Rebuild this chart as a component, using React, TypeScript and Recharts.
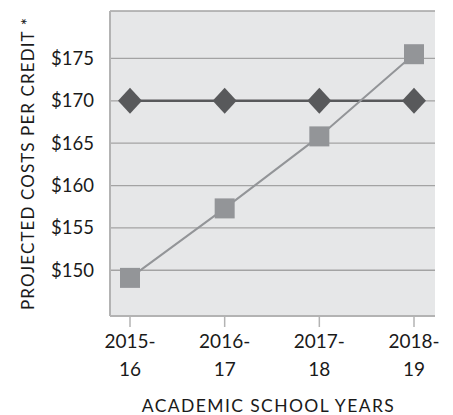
import { CartesianGrid, Label, Line, LineChart, XAxis, YAxis } from "recharts";

const years = ["2015-16", "2016-17", "2017-18", "2018-19"];
const flatCost = [170, 170, 170, 170];
const perCreditCost = [149.1, 157.3, 165.8, 175.5];
const yTicks = [150, 155, 160, 165, 170, 175];

const data = years.map((y, i) => ({ year: y, flat: flatCost[i], perCredit: perCreditCost[i] }));

const FONT = "Lato, 'Open Sans', sans-serif";
const DARK = "#58595b";
const LIGHT = "#939598";
const BORDER = "#b3b3b3";

function YearTick({ x, y, payload }: any) {
  const [a, b] = String(payload.value).split("-");
  return (
    <text x={x} y={y} textAnchor="middle" fontFamily={FONT} fontSize={19} fill="#1a1a1a">
      <tspan x={x} dy={19}>{a + "-"}</tspan>
      <tspan x={x} dy={28}>{b}</tspan>
    </text>
  );
}

function Diamond({ cx, cy }: any) {
  if (cx == null || cy == null) return null;
  return <path d={`M${cx},${cy - 13} L${cx + 12},${cy} L${cx},${cy + 13} L${cx - 12},${cy} Z`} fill={DARK} />;
}

function Square({ cx, cy }: any) {
  if (cx == null || cy == null) return null;
  return <rect x={cx - 10} y={cy - 10} width={20} height={20} fill={LIGHT} />;
}

export default function App() {
  return (
    <div style={{ position: "absolute", left: 0, top: 0, background: "#fff" }}>
      <LineChart width={453} height={415} data={data} margin={{ top: 11, right: 18, left: 0, bottom: 0 }}>
        <CartesianGrid vertical={false} fill="#e6e7e8" stroke="#a3a3a3" strokeWidth={1.3} />
        <XAxis
          dataKey="year"
          height={99}
          padding={{ left: 20, right: 21 }}
          tick={<YearTick />}
          tickSize={11}
          tickMargin={2}
          tickLine={{ stroke: BORDER, strokeWidth: 1.5 }}
          axisLine={{ stroke: BORDER, strokeWidth: 2 }}
          interval={0}
        >
          <Label
            content={({ viewBox }: any) => (
              <text
                x={viewBox.x + viewBox.width / 2 - 4}
                y={412}
                textAnchor="middle"
                fontFamily={FONT}
                fontSize={17.5}
                letterSpacing={1.4}
                fill="#1a1a1a"
              >
                ACADEMIC SCHOOL YEARS
              </text>
            )}
          />
        </XAxis>
        <XAxis xAxisId="top" orientation="top" dataKey="year" height={0} tick={false} tickLine={false} axisLine={{ stroke: BORDER, strokeWidth: 2 }} />
        <YAxis
          width={110}
          domain={[144.6, 180.6]}
          ticks={yTicks}
          tickFormatter={(v) => `$${v}`}
          tickLine={false}
          tickSize={0}
          tickMargin={16}
          tick={{ fontFamily: FONT, fontSize: 18.5, fill: "#1a1a1a" }}
          axisLine={{ stroke: BORDER, strokeWidth: 2 }}
        >
          <Label
            content={({ viewBox }: any) => {
              const cx = 27;
              const cy = viewBox.y + viewBox.height / 2;
              return (
                <text
                  x={cx}
                  y={cy}
                  transform={`rotate(-90 ${cx} ${cy})`}
                  textAnchor="middle"
                  dominantBaseline="central"
                  fontFamily={FONT}
                  fontSize={17}
                  letterSpacing={1.1}
                  fill="#1a1a1a"
                >
                  PROJECTED COSTS PER CREDIT *
                </text>
              );
            }}
          />
        </YAxis>
        <YAxis yAxisId="right" orientation="right" width={0} tick={false} tickLine={false} axisLine={{ stroke: BORDER, strokeWidth: 2 }} />
        <Line
          dataKey="flat"
          stroke={DARK}
          strokeWidth={2.5}
          dot={<Diamond />}
          activeDot={false}
          isAnimationActive={false}
        />
        <Line
          dataKey="perCredit"
          stroke={LIGHT}
          strokeWidth={2}
          dot={<Square />}
          activeDot={false}
          isAnimationActive={false}
        />
      </LineChart>
    </div>
  );
}
